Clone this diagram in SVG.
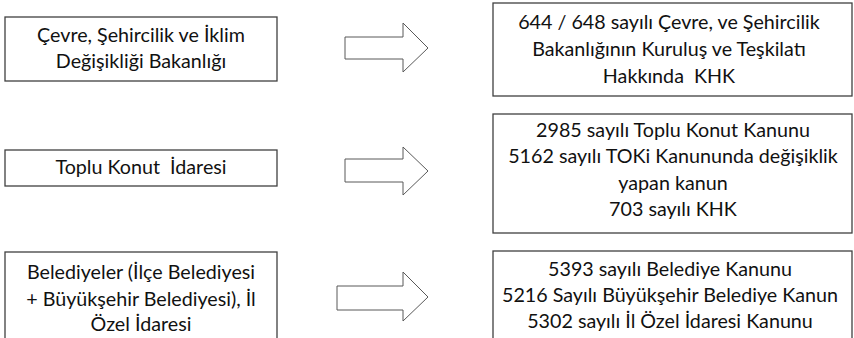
<svg xmlns="http://www.w3.org/2000/svg" width="854" height="338" viewBox="0 0 854 338">
<style>
.box{fill:#fff;stroke:#404040;stroke-width:1.3}
.arr{fill:#fff;stroke:#595959;stroke-width:1}
text{font-family:Lato,"Open Sans","Liberation Sans",sans-serif;font-size:19.7px;fill:#111;text-anchor:middle}
</style>
<rect width="854" height="338" fill="#fff"/>
<g id="n1">
<rect class="box" x="5" y="17" width="272" height="64"/>
<text x="141" y="42">Çevre, Şehircilik ve İklim</text>
<text x="141" y="68">Değişikliği Bakanlığı</text>
</g>
<g id="n2">
<rect class="box" x="493" y="3" width="359" height="93"/>
<text x="669" y="29">644 / 648 sayılı Çevre, ve Şehircilik</text>
<text x="669" y="56">Bakanlığının Kuruluş ve Teşkilatı</text>
<text x="669" y="83">Hakkında&#160; KHK</text>
</g>
<g id="n3">
<rect class="box" x="5" y="150" width="272" height="36"/>
<text x="141" y="174">Toplu Konut&#160; İdaresi</text>
</g>
<g id="n4">
<rect class="box" x="493" y="114" width="359" height="119"/>
<text x="673" y="137">2985 sayılı Toplu Konut Kanunu</text>
<text x="673" y="163">5162 sayılı TOKi Kanununda değişiklik</text>
<text x="673" y="190">yapan kanun</text>
<text x="673" y="216">703 sayılı KHK</text>
</g>
<g id="n5">
<rect class="box" x="5" y="252" width="272" height="100"/>
<text x="141" y="279">Belediyeler (İlçe Belediyesi</text>
<text x="141" y="306">+ Büyükşehir Belediyesi), İl</text>
<text x="141" y="331">Özel İdaresi</text>
</g>
<g id="n6">
<rect class="box" x="493" y="251" width="359" height="100"/>
<text x="670" y="276">5393 sayılı Belediye Kanunu</text>
<text x="670" y="302">5216 Sayılı Büyükşehir Belediye Kanun</text>
<text x="670" y="328">5302 sayılı İl Özel İdaresi Kanunu</text>
</g>
<g id="connectors">
<polygon class="arr" points="345,37 403,37 403,23 428,48 403,72 403,59 345,59"/>
<polygon class="arr" points="345,159 403,159 403,147 428,171 403,195 403,182 345,182"/>
<polygon class="arr" points="337,286 403,286 403,272 428,297 403,321 403,310 337,310"/>
</g>
</svg>
